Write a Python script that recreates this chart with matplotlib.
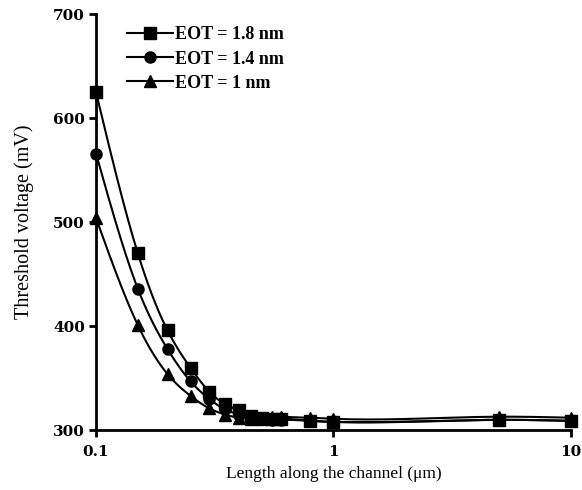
import numpy as np
import matplotlib.pyplot as plt

# channel length (um) and threshold voltage (mV)
length = [0.1, 0.15, 0.2, 0.25, 0.3, 0.35, 0.4, 0.45, 0.5, 0.55, 0.6, 0.8, 1, 5, 10]
vt_18 = [625, 470, 396, 360, 337, 325, 319, 314, 312, 311, 311, 309, 308, 310, 309]
vt_14 = [566, 436, 378, 347, 330, 320, 315, 312, 311, 310, 310, 309, 308, 310, 309]
vt_10 = [504, 401, 354, 333, 321, 315, 312, 311, 311, 313, 313, 312, 311, 313, 312]
labels = ['EOT = 1.8 nm', 'EOT = 1.4 nm', 'EOT = 1 nm']
markers = ['s', 'o', '^']


def smooth(x, y, n=400):
    # natural cubic spline in log-x, only for drawing the fitted line
    t = np.log10(np.asarray(x, float))
    y = np.asarray(y, float)
    h = np.diff(t)
    m = len(t)
    A = np.zeros((m, m))
    r = np.zeros(m)
    A[0, 0] = A[-1, -1] = 1
    for i in range(1, m - 1):
        A[i, i - 1] = h[i - 1]
        A[i, i] = 2 * (h[i - 1] + h[i])
        A[i, i + 1] = h[i]
        r[i] = 6 * ((y[i + 1] - y[i]) / h[i] - (y[i] - y[i - 1]) / h[i - 1])
    M = np.linalg.solve(A, r)
    tt = np.linspace(t[0], t[-1], n)
    k = np.clip(np.searchsorted(t, tt) - 1, 0, m - 2)
    a = t[k + 1] - tt
    b = tt - t[k]
    hk = h[k]
    yy = (M[k] * a ** 3 + M[k + 1] * b ** 3) / (6 * hk) \
        + (y[k] / hk - M[k] * hk / 6) * a + (y[k + 1] / hk - M[k + 1] * hk / 6) * b
    return 10 ** tt, yy


plt.rcParams['font.family'] = 'Liberation Serif'
fig = plt.figure(figsize=(5.82, 4.90), dpi=100)
ax = fig.add_axes([0.165, 0.122, 0.816, 0.849])

for vals, lab, mk in zip([vt_18, vt_14, vt_10], labels, markers):
    xs, ys = smooth(length, vals)
    ax.plot(xs, ys, color='black', lw=1.5, clip_on=False)
    ax.plot(length, vals, ls='none', marker=mk, ms=8, color='black', clip_on=False)
    ax.plot([], [], color='black', lw=1.5, marker=mk, ms=8, label=lab)

ax.set_xscale('log')
ax.set_xlim(0.1, 10)
ax.set_ylim(300, 700)
ax.set_xticks([0.1, 1, 10])
ax.set_xticklabels(['0.1', '1', '10'])
ax.xaxis.set_minor_locator(plt.NullLocator())
ax.set_yticks([300, 400, 500, 600, 700])

for s in ['top', 'right']:
    ax.spines[s].set_visible(False)
for s in ['left', 'bottom']:
    ax.spines[s].set_linewidth(2)
ax.tick_params(direction='out', width=2, length=5, pad=3)
ax.tick_params(axis='x', pad=6)
for t in ax.get_xticklabels() + ax.get_yticklabels():
    t.set_fontfamily('DejaVu Serif')
    t.set_fontweight('bold')
    t.set_fontsize(11)

ax.set_xlabel('Length along the channel (\u03bcm)', fontsize=12.5, labelpad=5)
ax.set_ylabel('Threshold voltage (mV)', fontsize=14.5, labelpad=14)
ax.legend(loc='upper left', bbox_to_anchor=(0.032, 1.01), frameon=False,
          prop={'size': 13, 'weight': 'bold'}, handlelength=2.5,
          handletextpad=0.15, labelspacing=0.4)

fig.savefig('out.png', dpi=100)
